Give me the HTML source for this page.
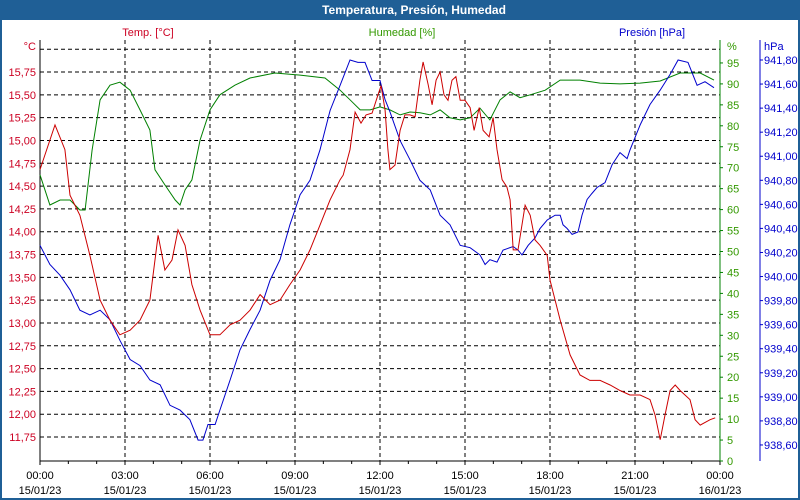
<!DOCTYPE html>
<html><head><meta charset="utf-8"><style>
html,body{margin:0;padding:0;background:#fff}
#wrap{position:relative;width:800px;height:500px;overflow:hidden;font-family:"Liberation Sans",sans-serif}
</style></head><body>
<div id="wrap">
<svg id="chart" width="800" height="500" xmlns="http://www.w3.org/2000/svg">
<rect x="0" y="0" width="800" height="500" fill="#fff"/>
<rect x="0" y="0" width="800" height="20" fill="#1f5f96"/>
<text x="414" y="14" fill="#fff" font-size="12" font-weight="bold" text-anchor="middle">Temperatura, Presión, Humedad</text>
<rect x="1" y="1" width="798" height="498" fill="none" stroke="#1f5f96" stroke-width="2"/>
<text x="148" y="36" fill="#cc0022" font-size="11" text-anchor="middle">Temp. [°C]</text>
<text x="402" y="36" fill="#339900" font-size="11" text-anchor="middle">Humedad [%]</text>
<text x="652" y="36" fill="#0000cc" font-size="11" text-anchor="middle">Presión [hPa]</text>
<text x="36" y="50" fill="#cc0022" font-size="11" text-anchor="end">°C</text>
<text x="727" y="50" fill="#339900" font-size="11">%</text>
<text x="764" y="50" fill="#0000cc" font-size="11">hPa</text>
<g id="grid"></g><g id="axes"></g><g id="series"></g>
</svg>
</div>
<script>
const tempHours=[0,0.53,0.88,1.06,1.41,1.76,2.12,2.47,2.82,3.18,3.53,3.88,4.17,4.41,4.66,4.87,5.12,5.36,5.65,6.00,6.35,6.71,7.06,7.41,7.77,8.12,8.47,8.82,9.18,9.53,9.88,10.24,10.59,10.70,10.94,11.12,11.33,11.51,11.72,11.93,12.04,12.18,12.28,12.35,12.53,12.71,12.88,13.06,13.24,13.41,13.52,13.70,13.84,13.98,14.12,14.26,14.40,14.54,14.68,14.83,15.00,15.18,15.32,15.50,15.64,15.85,15.99,16.13,16.31,16.48,16.59,16.70,16.87,17.12,17.30,17.47,17.65,17.90,18.00,18.18,18.36,18.71,19.06,19.41,19.77,20.12,20.47,20.82,21.18,21.53,21.71,21.89,22.06,22.24,22.42,22.59,22.94,23.12,23.30,23.65,23.83];
const tempValues=[14.68,15.17,14.90,14.40,14.18,13.74,13.25,13.03,12.87,12.92,13.03,13.25,13.96,13.58,13.69,14.02,13.85,13.42,13.14,12.87,12.87,12.98,13.03,13.14,13.31,13.20,13.25,13.42,13.58,13.80,14.07,14.35,14.57,14.62,14.90,15.31,15.19,15.28,15.30,15.50,15.60,15.33,14.90,14.68,14.73,15.11,15.28,15.28,15.26,15.66,15.86,15.61,15.39,15.66,15.75,15.50,15.44,15.66,15.70,15.44,15.44,15.36,15.11,15.36,15.11,15.04,15.25,14.90,14.57,14.49,14.35,13.80,13.80,14.29,14.18,13.91,13.85,13.74,13.47,13.25,13.03,12.65,12.43,12.37,12.37,12.32,12.26,12.21,12.21,12.16,11.99,11.72,11.99,12.26,12.32,12.26,12.16,11.94,11.88,11.94,11.96];
const humHours=[0,0.35,0.71,1.06,1.41,1.59,1.84,2.12,2.47,2.82,3.18,3.53,3.88,4.06,4.41,4.77,4.94,5.12,5.36,5.65,6.00,6.35,6.88,7.41,8.29,9.18,10.06,10.59,10.94,11.30,11.65,12.00,12.35,12.71,13.06,13.41,13.77,14.12,14.47,14.83,15.18,15.53,15.88,16.24,16.59,16.94,17.30,17.83,18.36,19.06,19.77,20.47,21.18,21.89,22.59,23.30,23.79];
const humValues=[68.3,61.1,62.3,62.3,59.9,59.9,74.2,86.2,89.7,90.4,88.5,83.8,79.0,69.5,65.9,62.3,61.1,64.7,67.1,76.6,83.8,87.4,89.7,91.4,92.6,92.1,91.4,88.5,86.2,83.8,83.8,84.5,83.8,82.6,83.3,83.1,82.6,83.8,81.9,81.4,81.9,84.2,81.4,86.2,88.1,86.7,87.4,88.5,90.9,90.9,90.2,90.0,90.2,90.7,92.6,92.6,90.9];
const presHours=[0,0.35,0.71,1.06,1.41,1.76,2.12,2.47,2.82,3.18,3.53,3.88,4.24,4.59,4.94,5.29,5.58,5.75,5.93,6.18,6.35,6.71,7.06,7.41,7.77,8.12,8.47,8.82,9.18,9.53,9.88,10.24,10.59,10.94,11.22,11.47,11.72,12.00,12.18,12.35,12.71,13.06,13.41,13.77,14.12,14.47,14.83,15.18,15.53,15.71,15.88,16.13,16.34,16.70,16.87,17.01,17.23,17.47,17.65,17.90,18.18,18.36,18.46,18.60,18.78,18.99,19.13,19.31,19.48,19.66,19.94,20.19,20.47,20.72,20.82,21.18,21.53,21.89,22.24,22.52,22.87,23.19,23.47,23.79];
const presValues=[940.26,940.10,940.01,939.89,939.72,939.68,939.72,939.64,939.47,939.31,939.26,939.14,939.10,938.93,938.89,938.81,938.64,938.64,938.77,938.77,938.89,939.14,939.39,939.56,939.72,939.97,940.14,940.43,940.68,940.80,941.05,941.38,941.59,941.80,941.78,941.78,941.63,941.63,941.47,941.37,941.13,940.97,940.80,940.72,940.51,940.43,940.26,940.24,940.18,940.10,940.14,940.12,940.22,940.25,940.22,940.18,940.26,940.32,940.40,940.47,940.51,940.51,940.43,940.40,940.35,940.37,940.51,940.64,940.69,940.74,940.78,940.93,941.03,940.98,941.05,941.26,941.43,941.55,941.68,941.80,941.78,941.59,941.62,941.57];
const tempTicks=["15,75","15,50","15,25","15,00","14,75","14,50","14,25","14,00","13,75","13,50","13,25","13,00","12,75","12,50","12,25","12,00","11,75"];
const humTicks=[95,90,85,80,75,70,65,60,55,50,45,40,35,30,25,20,15,10,5,0];
const presTicks=["941,80","941,60","941,40","941,20","941,00","940,80","940,60","940,40","940,20","940,00","939,80","939,60","939,40","939,20","939,00","938,80","938,60"];
const timeLabels=["00:00","03:00","06:00","09:00","12:00","15:00","18:00","21:00","00:00"];
const dateLabels=["15/01/23","15/01/23","15/01/23","15/01/23","15/01/23","15/01/23","15/01/23","15/01/23","16/01/23"];

const X0=40,X1=720,YB=461,YT=40;
const xOf=h=>X0+h*(X1-X0)/24;
const yT=v=>72+(15.75-v)*91.25;
const yH=v=>461-v*4.19;
const yP=v=>60+(941.80-v)*120.3;
const num=s=>parseFloat(String(s).replace(',','.'));
const NS="http://www.w3.org/2000/svg";
function mk(tag,attrs,parent){const e=document.createElementNS(NS,tag);for(const k in attrs)e.setAttribute(k,attrs[k]);parent.appendChild(e);return e;}
const grid=document.getElementById('grid'),axes=document.getElementById('axes'),series=document.getElementById('series');

// horizontal grid lines (temperature ticks incl. 16,00)
[16.00].concat(tempTicks.map(num)).forEach(v=>{
  const l=mk('line',{x1:X0,x2:X1,y1:yT(v),y2:yT(v),stroke:'#000','stroke-dasharray':'4,3','stroke-width':1},grid);
  
  
});
// vertical grid lines
timeLabels.forEach((t,i)=>{
  const x=xOf(i*3);
  if(i>0&&i<8){const l=mk('line',{x1:x,x2:x,y1:YT,y2:YB,stroke:'#000','stroke-dasharray':'4,3','stroke-width':1},grid);
  
  }
  const t1=mk('text',{x:x,y:479,'font-size':11,'text-anchor':'middle',fill:'#000'},axes);t1.textContent=t;
  
  
  const t2=mk('text',{x:x,y:494,'font-size':11,'text-anchor':'middle',fill:'#000'},axes);t2.textContent=dateLabels[i];
  
  
});
for(let h=0;h<=24;h++){const x=xOf(h);const l=mk('line',{x1:x,x2:x,y1:YB,y2:YB+(h%3==0?4:3),stroke:'#000'},axes);
  
  }
// axis lines
let a=mk('line',{x1:X0,x2:X0,y1:YT,y2:YB,stroke:'#000'},axes);


a=mk('line',{x1:X0,x2:X1,y1:YB,y2:YB,stroke:'#000'},axes);


a=mk('line',{x1:X1,x2:X1,y1:YT,y2:YB,stroke:'#008000'},axes);


a=mk('line',{x1:760,x2:760,y1:YT,y2:YB,stroke:'#0000cc'},axes);


tempTicks.forEach(s=>{const t=mk('text',{x:36,y:yT(num(s))+4,'font-size':11,'text-anchor':'end',fill:'#cc0022'},axes);t.textContent=s;
  
  });
humTicks.forEach(v=>{const y=yH(v);mk('line',{x1:X1,x2:X1+3,y1:y,y2:y,stroke:'#008000'},axes);
  const t=mk('text',{x:727,y:y+4,'font-size':11,fill:'#339900'},axes);t.textContent=v;
  
  });
presTicks.forEach(s=>{const y=yP(num(s));mk('line',{x1:760,x2:763,y1:y,y2:y,stroke:'#0000cc'},axes);
  const t=mk('text',{x:764,y:y+4,'font-size':11,fill:'#0000cc'},axes);t.textContent=s;
  
  });
function line(hours,vals,yf,color,name){
  const pts=hours.map((h,i)=>xOf(h).toFixed(1)+','+yf(vals[i]).toFixed(1)).join(' ');
  const p=mk('polyline',{points:pts,fill:'none',stroke:color,'stroke-width':1},series);
  
  
}
line(humHours,humValues,yH,'#008000','humidity-line');
line(presHours,presValues,yP,'#0000cc','pressure-line');
line(tempHours,tempValues,yT,'#cc0000','temperature-line');
</script>
</body></html>
